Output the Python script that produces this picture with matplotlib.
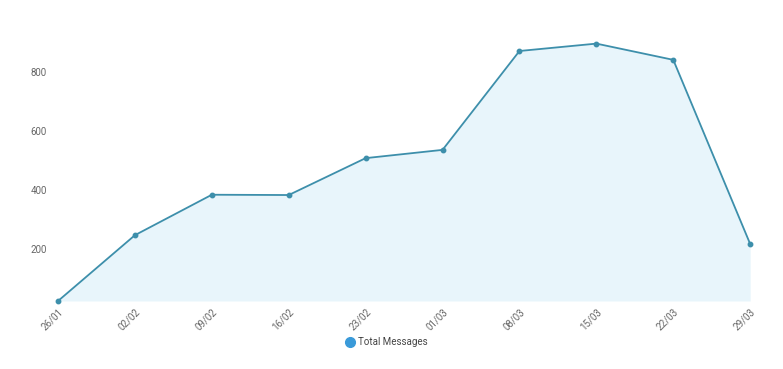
import matplotlib
matplotlib.use('Agg')
import matplotlib.pyplot as plt
from matplotlib.lines import Line2D

plt.rcParams['font.family'] = ['Roboto', 'DejaVu Sans']

weeks = ['26/01', '02/02', '09/02', '16/02', '23/02', '01/03', '08/03', '15/03', '22/03', '29/03']
total_messages = [24, 247, 384, 383, 508, 536, 871, 896, 841, 217]
y_ticks = [200, 400, 600, 800]

line_color = '#3d8fab'
fill_color = '#e8f5fb'
legend_color = '#3a9ad9'
text_color = '#666666'

fig = plt.figure(figsize=(7.83, 3.69), dpi=100)
ax = fig.add_axes([0.0741, 0.1843, 0.884, 0.7007])

x = list(range(len(weeks)))
ax.fill_between(x, total_messages, min(total_messages), color=fill_color, linewidth=0)
ax.plot(x, total_messages, color=line_color, linewidth=1.3, marker='o', markersize=3.2,
        markerfacecolor=line_color, markeredgecolor=line_color, zorder=3, clip_on=False)

ax.set_xlim(0, len(weeks) - 1)
ax.set_ylim(min(total_messages), 900)
ax.set_yticks(y_ticks)
ax.set_xticks(x)
ax.set_xticklabels(weeks, rotation=45, ha='right', rotation_mode='anchor')

for spine in ax.spines.values():
    spine.set_visible(False)
ax.tick_params(axis='both', length=0, labelsize=7, colors=text_color)
ax.tick_params(axis='y', pad=8)
ax.tick_params(axis='x', pad=4)

handle = Line2D([], [], linestyle='None', marker='o', markersize=7,
                markerfacecolor=legend_color, markeredgecolor=legend_color)
fig.legend([handle], ['Total Messages'], loc='center', bbox_to_anchor=(0.493, 0.073),
           frameon=False, fontsize=7, labelcolor='#444444', handletextpad=0.3,
           handlelength=1.0)

fig.savefig('out.png', dpi=100, facecolor='white')
